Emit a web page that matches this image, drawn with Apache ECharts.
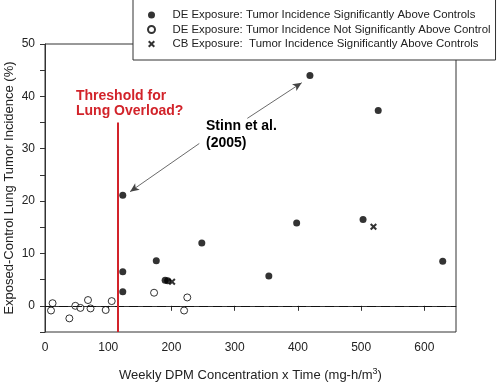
<!DOCTYPE html>
<html>
<head>
<meta charset="utf-8">
<script src="https://cdn.jsdelivr.net/npm/echarts@6/dist/echarts.min.js"></script>
<style>
  html, body { margin: 0; padding: 0; background: #fff; }
  #chart { width: 499px; height: 383px; }
</style>
</head>
<body>
<div id="chart"></div>
<script>
// values: [dose (mg·h/m3), excess incidence %]
const deSignificant = [
  [123, 21.1], [123, 6.5], [123, 2.7], [176, 8.6], [190, 4.9], [194, 4.8],
  [248, 12.0], [354, 5.7], [398, 15.8], [419, 44.0], [503, 16.5], [527, 37.3], [629, 8.5]
];
const deNotSignificant = [
  [9.5, -0.9], [12, 0.5], [38.5, -2.4], [48, 0.0], [56, -0.4], [68, 1.1],
  [72, -0.5], [96, -0.8], [105.5, 0.9], [172.5, 2.5], [220, -0.9], [225, 1.6]
];
const cbSignificant = [[201, 4.6], [519.5, 15.1]];

const xTicks = [0, 100, 200, 300, 400, 500, 600];
const seriesNames = [
  'DE Exposure: Tumor Incidence Significantly Above Controls',
  'DE Exposure: Tumor Incidence Not Significantly Above Control',
  'CB Exposure:  Tumor Incidence Significantly Above Controls'
];
const thresholdX = 115;
const thresholdTop = 35;
// Stinn et al. (2005) arrows: [from, to]
const arrowToLow = [[244, 31.0], [134.5, 21.8]];
const arrowToHigh = [[320, 35.8], [406, 42.6]];

const FONT = '"Liberation Sans", Arial, sans-serif';
const crossPath = 'path://M0,2L2,0L5,3L8,0L10,2L7,5L10,8L8,10L5,7L2,10L0,8L3,5Z';

const chart = echarts.init(document.getElementById('chart'));
chart.setOption({
  animation: false,
  backgroundColor: '#fff',
  textStyle: { fontFamily: FONT },
  grid: {
    left: 45, right: 43, top: 44, bottom: 51,
    outerBoundsMode: 'none',
    containLabel: false,
    show: true, borderColor: '#333', borderWidth: 1
  },
  legend: {
    orient: 'vertical',
    left: 133, top: -3,
    padding: [11.5, 5, 9.5, 14],
    itemGap: 1.5,
    itemWidth: 32, itemHeight: 7,
    borderColor: '#333', borderWidth: 1,
    backgroundColor: '#fff',
    textStyle: { fontSize: 11.4, lineHeight: 13, color: '#222', fontFamily: FONT },
    data: seriesNames
  },
  xAxis: {
    type: 'value',
    min: 0, max: 650, interval: 100,
    name: 'Weekly DPM Concentration x Time (mg-h/m{sup|3})',
    nameLocation: 'middle', nameGap: 35,
    nameMoveOverlap: false,
    nameTextStyle: {
      fontSize: 13, color: '#222', fontFamily: FONT,
      rich: { sup: { fontSize: 9, verticalAlign: 'top', padding: [0, 0, 7, 0], color: '#222' } }
    },
    axisLine: { lineStyle: { color: '#333', width: 1 } },
    axisTick: { inside: false, length: 5, lineStyle: { color: '#333' }, customValues: xTicks },
    axisLabel: { fontSize: 12, color: '#222', margin: 10, customValues: xTicks },
    splitLine: { show: false }
  },
  yAxis: {
    type: 'value',
    min: -5, max: 50, interval: 5,
    name: 'Exposed-Control Lung Tumor Incidence (%)',
    nameLocation: 'middle', nameGap: 29,
    nameMoveOverlap: false,
    nameTextStyle: { fontSize: 13, color: '#222', fontFamily: FONT },
    axisLine: { lineStyle: { color: '#333', width: 1 } },
    axisTick: { length: 5, lineStyle: { color: '#333' } },
    axisLabel: {
      fontSize: 12, color: '#222', margin: 10,
      formatter: (v) => (v % 10 === 0 && v >= 0 ? String(v) : '')
    },
    splitLine: { show: false }
  },
  series: [
    {
      name: seriesNames[0],
      type: 'scatter',
      symbol: 'circle', symbolSize: 7,
      itemStyle: { color: '#000' },
      data: deSignificant,
      z: 5,
      markLine: {
        silent: true,
        symbol: ['none', 'arrow'],
        symbolSize: [6, 9],
        label: { show: false },
        lineStyle: { color: '#444', width: 0.8, type: 'solid' },
        data: [
          [{ coord: arrowToLow[0] }, { coord: arrowToLow[1] }],
          [{ coord: arrowToHigh[0] }, { coord: arrowToHigh[1] }]
        ]
      }
    },
    {
      name: seriesNames[1],
      type: 'scatter',
      symbol: 'circle', symbolSize: 7,
      itemStyle: { color: '#fff', borderColor: '#000', borderWidth: 1 },
      data: deNotSignificant,
      z: 4,
      markLine: {
        silent: true,
        symbol: 'none',
        label: { show: false },
        data: [
          { yAxis: 0, lineStyle: { color: '#111', width: 1, type: [9, 5] } },
          [
            { coord: [thresholdX, -5], lineStyle: { color: '#d2232a', width: 2, type: 'solid' } },
            { coord: [thresholdX, thresholdTop] }
          ]
        ]
      }
    },
    {
      name: seriesNames[2],
      type: 'scatter',
      symbol: crossPath, symbolSize: 7,
      itemStyle: { color: '#000' },
      data: cbSignificant,
      z: 5
    }
  ],
  graphic: [
    {
      type: 'text', left: 76, top: 88,
      style: {
        text: 'Threshold for\nLung Overload?',
        font: 'bold 14px ' + FONT, lineHeight: 15.5,
        fill: '#d2232a'
      }
    },
    {
      type: 'text', left: 206, top: 117,
      style: {
        text: 'Stinn et al.\n(2005)',
        font: 'bold 14px ' + FONT, lineHeight: 17.5,
        fill: '#000'
      }
    }
  ]
});
</script>
</body>
</html>
